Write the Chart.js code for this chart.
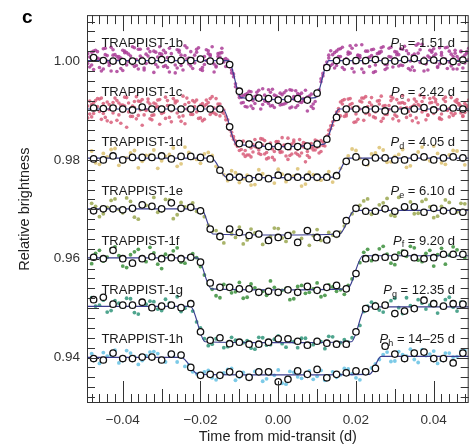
<!DOCTYPE html>
<html>
<head>
<meta charset="utf-8">
<script src="https://cdn.jsdelivr.net/npm/chart.js@4.4.1/dist/chart.umd.min.js"></script>
<style>
  html, body { margin: 0; padding: 0; background: #fff; }
  #wrap { width: 474px; height: 446px; }
</style>
</head>
<body>
<div id="wrap"><canvas id="lc" width="474" height="446"></canvas></div>
<script>
// planets from top to bottom, each light curve shifted down by 0.01
const planets = ['b', 'c', 'd', 'e', 'f', 'g', 'h'];
const periods = ['1.51', '2.42', '4.05', '6.10', '9.20', '12.35', '14\u201325'];
const offsets = [0, -0.01, -0.02, -0.03, -0.04, -0.05, -0.06];
const dotColors = [
    'rgba(172,62,152,0.85)', 'rgba(216,94,122,0.85)', 'rgba(222,196,120,0.9)',
    'rgba(160,172,90,0.9)', 'rgba(70,150,70,0.9)', 'rgba(60,155,130,0.9)', 'rgba(110,196,228,0.9)'
];

const xTicks = [-0.04, -0.02, 0, 0.02, 0.04];
const yTicks = [0.94, 0.96, 0.98, 1.00];

// binned points (open circles). time in days, flux in ppt relative to 1
const binT = [
    -0.0475, -0.045, -0.0425, -0.04, -0.0375, -0.035, -0.0325, -0.03, -0.0275, -0.025,
    -0.0225, -0.02, -0.0175, -0.015, -0.0125, -0.01, -0.0075, -0.005, -0.0025, 0,
    0.0025, 0.005, 0.0075, 0.01, 0.0125, 0.015, 0.0175, 0.02, 0.0225, 0.025,
    0.0275, 0.03, 0.0325, 0.035, 0.0375, 0.04, 0.0425, 0.045, 0.0475
];
const binB = [0.7, 0.1, 0.0, -0.1, 0.0, 0.0, 0.1, 0.3, 0.3, 0.1, 0.1, 0.4, 0.0, 0.0, -0.7, -6.1, -7.4, -7.5, -7.6, -7.9,
    -7.7, -7.6, -7.9, -6.5, -1.3, 0.1, -0.1, 0.1, 0.1, 0.3, 0.0, 0.0, 0.3, 0.5, 0.0, 0.2, 0.0, -0.1, 0.2];
const binC = [0.5, 0.4, 0.5, 0.3, 0.1, 0.7, 0.3, 0.3, 0.5, 0.3, 0.3, 0.4, 0.3, 0.3, -3.3, -6.7, -6.8, -7.0, -7.3, -7.3,
    -7.3, -7.3, -7.2, -6.8, -5.8, -1.4, 0.3, 0.3, 0.1, 0.3, -0.1, 0.3, -0.1, 0.3, 0.6, 0.1, 0.5, 0.5, 0.3];
const binD = [0.2, 0.0, 0.8, 0.0, 0.5, 0.5, 0.5, 0.8, 0.2, 0.7, 0.7, 0.5, 0.2, -2.1, -3.5, -3.5, -3.8, -3.5, -3.8, -3.1,
    -3.5, -3.5, -3.5, -3.5, -3.5, -3.2, -0.3, 0.6, -0.5, 0.4, 0.4, 0.0, 0.0, 0.5, 0.6, 0.0, 0.4, 0.6, 0.4];
const binE = [-0.3, 0.1, 0.1, -0.1, 0.2, 0.9, 0.6, 0.1, 1.3, 0.2, 0.4, -0.3, -4.0, -5.5, -4.0, -4.7, -5.3, -5.0, -6.3, -5.7,
    -5.3, -6.7, -4.3, -5.7, -6.2, -5.0, -2.3, 0.2, -0.4, -0.4, 0.1, -0.4, 0.5, 0.5, -0.6, 0.2, -0.3, -0.4, -0.6];
const binF = [0.3, 0.0, 1.7, 0.0, -0.9, 0.0, 0.4, 0.0, 0.2, 0.0, 0.3, -0.7, -4.9, -5.8, -5.8, -6.1, -6.1, -6.8, -6.6, -6.8,
    -6.3, -6.8, -5.6, -6.4, -5.8, -5.4, -6.1, -3.0, 0.0, 0.2, 0.3, 0.3, 1.1, 0.2, 0.0, 0.2, 0.9, 0.9, 0.9];
const binG = [1.7, 2.2, 0.8, 0.6, 0.6, 1.2, 0.1, 0.4, 0.6, 0.1, 0.9, -4.8, -6.5, -6.0, -7.2, -6.9, -7.3, -7.3, -6.9, -6.2,
    -6.2, -6.7, -7.5, -6.7, -7.1, -7.3, -7.3, -4.8, -0.1, 0.4, 0.6, -1.1, -0.6, -0.1, 1.6, 0.9, 0.4, 0.9, 0.8];
const binH = [-0.2, -0.5, 0.9, -0.2, -0.2, 0.1, 0.1, -0.5, 0.7, 0.5, -2.0, -3.6, -3.4, -3.6, -2.9, -3.4, -4.0, -2.9, -2.9, -4.9,
    -4.4, -2.7, -3.4, -2.4, -4.1, -3.4, -3.1, -2.7, -2.9, -2.2, 2.3, 0.7, -0.2, 0.9, 1.1, -0.2, -0.2, -1.1, 0.9];

// unbinned photometry (coloured dots)
const rawT = [
    -0.049, -0.048, -0.047, -0.046, -0.045, -0.044, -0.043, -0.042, -0.041, -0.040,
    -0.039, -0.038, -0.037, -0.036, -0.035, -0.034, -0.033, -0.032, -0.031, -0.030,
    -0.029, -0.028, -0.027, -0.026, -0.025, -0.024, -0.023, -0.022, -0.021, -0.020,
    -0.019, -0.018, -0.017, -0.016, -0.015, -0.014, -0.013, -0.012, -0.011, -0.010,
    -0.009, -0.008, -0.007, -0.006, -0.005, -0.004, -0.003, -0.002, -0.001, 0,
    0.001, 0.002, 0.003, 0.004, 0.005, 0.006, 0.007, 0.008, 0.009, 0.010,
    0.011, 0.012, 0.013, 0.014, 0.015, 0.016, 0.017, 0.018, 0.019, 0.020,
    0.021, 0.022, 0.023, 0.024, 0.025, 0.026, 0.027, 0.028, 0.029, 0.030,
    0.031, 0.032, 0.033, 0.034, 0.035, 0.036, 0.037, 0.038, 0.039, 0.040,
    0.041, 0.042, 0.043, 0.044, 0.045, 0.046, 0.047, 0.048, 0.049
];
const rawT2 = [
    -0.0485, -0.0475, -0.0465, -0.0455, -0.0445, -0.0435, -0.0425, -0.0415, -0.0405, -0.0395,
    -0.0385, -0.0375, -0.0365, -0.0355, -0.0345, -0.0335, -0.0325, -0.0315, -0.0305, -0.0295,
    -0.0285, -0.0275, -0.0265, -0.0255, -0.0245, -0.0235, -0.0225, -0.0215, -0.0205, -0.0195,
    -0.0185, -0.0175, -0.0165, -0.0155, -0.0145, -0.0135, -0.0125, -0.0115, -0.0105, -0.0095,
    -0.0085, -0.0075, -0.0065, -0.0055, -0.0045, -0.0035, -0.0025, -0.0015, -0.0005,
    0.0005, 0.0015, 0.0025, 0.0035, 0.0045, 0.0055, 0.0065, 0.0075, 0.0085, 0.0095,
    0.0105, 0.0115, 0.0125, 0.0135, 0.0145, 0.0155, 0.0165, 0.0175, 0.0185, 0.0195,
    0.0205, 0.0215, 0.0225, 0.0235, 0.0245, 0.0255, 0.0265, 0.0275, 0.0285, 0.0295,
    0.0305, 0.0315, 0.0325, 0.0335, 0.0345, 0.0355, 0.0365, 0.0375, 0.0385, 0.0395,
    0.0405, 0.0415, 0.0425, 0.0435, 0.0445, 0.0455, 0.0465, 0.0475, 0.0485
];
const rawB = [1.5, -0.8, 2.2, 0.4, -1.6, 1.1, 2.8, -0.3, 0.9, -1.9, 1.7, 0.2, -1.1, 2.4, 0.6, -0.5, 1.9, -2.3, 0.8, 1.4,
    -0.9, 2.6, 0.1, -1.4, 1.2, 3.1, -0.6, 0.5, 1.8, -1.7, 0.9, 2.1, -0.2, -1.2, 1.6, 0.3,
    -0.4, -1.8, -5.2, -6.9,
    -8.4, -6.6, -9.1, -7.2, -5.9, -8.8, -7.5, -6.3, -9.4, -7.9, -6.8, -8.5, -5.8, -7.7, -9.0, -6.5, -8.1, -7.1, -9.6,
    -7.0, -4.2, -1.5, 0.6,
    1.3, -0.9, 2.5, 0.2, 1.8, -1.5, 3.2, 0.7, -0.4, 2.0, 1.1, -2.1, 1.6, 2.9, -0.7, 0.8, 1.9, -1.0, 2.4, 0.4,
    -1.8, 1.4, 3.5, 0.1, -0.6, 2.2, 1.0, -1.3, 1.7, 2.7, -0.2, 0.9, -1.6, 2.0, 1.2, 0.3];
const rawB2 = [-1.2, 2.0, 0.6, -2.0, 1.3, -0.4, 2.3, 0.9, -1.5, 1.7, -0.1, 2.9, -0.9, 1.0, -1.8, 2.5, 0.3, -0.7, 1.5, 2.2,
    -1.3, 0.6, -2.4, 1.8, 0.0, 2.7, -1.0, 1.2, 0.4, -1.9, 2.3, 1.0, -0.6, 1.5, 2.6, -1.1,
    -0.5, -3.2, -6.2,
    -7.3, -9.2, -6.1, -8.0, -7.0, -9.7, -6.9, -8.6, -5.7, -7.8, -8.9, -6.4, -7.4, -9.3, -6.0, -8.3, -7.6, -10.1, -6.7, -8.2,
    -5.8, -3.0, -0.8,
    2.1, -1.4, 0.9, 2.8, -0.5, 1.6, -2.2, 1.1, 3.3, 0.2, -1.1, 2.4, 0.6, 1.9, -1.7, 2.6, 0.0, 1.3, -0.8, 3.0,
    1.5, -1.2, 0.7, 2.3, -2.0, 1.0, 1.8, -0.3, 2.7, 0.5, -1.5, 1.4, 2.2, -0.7, 0.8, 1.6];
const rawB3 = [-0.5, 1.8, 0.7, -1.3, 2.5, 0.0, -2.0, 1.3, 0.4, 2.2, -0.8, 1.0, 2.7, -1.6, 0.5, 1.4, -0.3, 2.0, -1.2, 0.9,
    1.7, -2.2, 0.3, 2.3, -0.9, 1.1, 0.6, -1.5, 2.4, 0.2, -0.7, 1.5, 2.9, -1.0, 0.8, -0.2,
    0.2, -2.4, -4.6, -7.4,
    -7.0, -9.3, -6.2, -8.6, -7.7, -5.6, -8.2, -9.1, -6.9, -7.4, -8.8, -6.0, -9.5, -7.2, -6.6, -8.4, -5.9, -7.9, -8.7,
    -6.4, -3.6, -0.9, 1.2,
    -0.6, 2.0, 0.9, -1.7, 1.4, 2.6, -0.2, 1.1, -2.3, 0.6, 2.3, -0.8, 1.8, 0.3, -1.4, 2.8, 0.5, 1.3, -0.9, 2.1,
    0.0, -1.9, 1.6, 3.4, -0.5, 0.7, 2.5, -1.1, 1.2, 0.4, 2.0, -1.6, 0.9, 1.9, -0.4, 2.6];
const rawB4 = [0.8, -1.7, 1.9, 0.2, 2.6, -0.9, 1.2, -2.1, 0.6, 2.0, 1.4, -0.6, 0.3, 2.4, -1.4, 1.0, -0.2, 1.8, 2.9, -1.1,
    0.7, 1.5, -0.8, 2.2, -1.8, 0.4, 1.9, -0.4, 2.7, -1.3, 0.1, 1.3, -2.2, 0.9, 1.7, 0.5,
    -1.2, -2.6, -5.6,
    -8.5, -6.8, -7.9, -9.6, -6.3, -7.6, -8.1, -5.8, -9.0, -7.1, -6.5, -8.7, -7.8, -5.9, -9.4, -6.8, -8.0, -7.3, -9.2, -6.6,
    -6.5, -2.5, -0.2,
    -0.9, 1.7, 2.4, -1.3, 0.5, 3.1, -0.4, 1.2, -1.6, 2.0, 0.8, -2.3, 1.5, 2.7, -0.7, 0.9, -1.2, 1.8, 2.5, 0.1,
    -1.5, 1.1, 3.2, -0.3, 0.6, -1.8, 2.1, 1.4, -0.6, 0.2, 2.8, -1.0, 1.6, 0.4, -1.4, 1.9];
const rawC = [0.9, -1.3, 2.0, -0.2, 1.4, -2.1, 0.7, 2.5, -0.9, 1.1, -3.4, 0.4, 1.8, -1.0, 2.2, 0.0, -1.7, 1.5, 0.8, -0.6,
    2.7, -1.4, 0.5, 1.9, -2.2, 1.2, 0.3, -0.8, 2.1, -1.5, 0.9, 1.6, -0.4, 2.4, -1.1,
    -0.6, -2.8, -4.4, -6.8,
    -8.1, -6.2, -9.0, -7.6, -5.9, -8.7, -7.0, -9.8, -6.6, -8.3, -7.4, -5.5, -9.2, -7.8, -6.4, -8.9, -7.1, -10.4, -6.9, -8.0,
    -7.5, -6.1,
    -6.0, -4.8, -2.3, -0.9,
    1.7, -1.2, 2.3, 0.5, -0.7, 1.9, -2.0, 0.8, 2.6, -0.3, 1.3, -1.6, 0.2, 2.0, -0.9, 1.5, 3.0, -1.4, 0.6, 1.1,
    -2.5, 1.8, 0.0, 2.4, -0.6, 1.2, -1.8, 2.7, 0.4, -1.0, 1.6, 0.9, -0.4, 2.1];
const rawC2 = [-0.7, 1.6, 2.4, -1.8, 0.3, 1.2, -0.5, 2.0, -2.6, 0.9, 1.5, -1.2, 2.8, 0.1, -0.9, 1.7, -1.9, 0.6, 2.2, -0.4,
    1.0, -2.3, 1.9, 0.4, -1.1, 2.5, -0.2, 0.8, -1.6, 1.4, 2.1, -0.8, 0.5, 1.3,
    -0.3, -1.9, -3.4, -5.8, -6.6,
    -7.9, -9.3, -6.5, -8.4, -7.2, -5.7, -8.8, -7.7, -9.5, -6.3, -8.2, -7.0, -9.9, -6.8, -8.6, -5.9, -7.4, -9.1, -6.7, -8.0,
    -7.3,
    -7.1, -5.2, -3.7, -1.4, -0.1,
    2.0, -1.1, 1.2, -2.4, 0.7, 2.5, -0.6, 1.6, -1.3, 0.3, 2.9, -0.8, 1.0, -1.7, 2.2, 0.5, 1.4, -0.2, -2.1, 1.8,
    0.9, 2.6, -1.0, 0.4, 1.7, -1.5, 2.3, 0.1, -0.5, 1.9, 1.1, -1.2, 0.6];
const rawC3 = [-1.5, 1.2, 0.3, 2.3, -0.6, 1.7, -2.4, 0.8, 1.5, -0.2, 2.6, -1.2, 0.6, 1.9, -3.0, 0.2, 1.3, -0.9, 2.1, 0.7,
    -1.6, 1.0, 2.4, -0.5, 0.4, -2.7, 1.6, 2.0, -0.3, 1.1, -1.8, 0.5, 2.8, -0.8, 1.3,
    0.1, -1.9, -5.1, -6.2,
    -7.0, -8.8, -6.5, -9.4, -7.3, -8.0, -5.8, -8.5, -7.7, -10.0, -6.3, -8.4, -7.1, -9.1, -6.0, -7.9, -8.6, -6.7, -9.5, -7.4,
    -6.2, -8.3,
    -7.2, -4.0, -3.0, -0.3,
    -1.1, 2.2, 0.7, 1.4, -2.3, 0.3, 2.5, -0.4, 1.1, -1.5, 2.0, 0.9, -0.8, 2.8, 0.1, -2.1, 1.6, 0.6, -1.0, 2.3,
    1.2, -0.3, -1.9, 1.5, 2.6, 0.2, -0.7, 1.8, -1.3, 0.8, 2.2, -0.5, 1.4, 0.0];
const rawC4 = [1.9, -0.6, 0.8, 2.5, -1.4, 0.2, 1.6, -2.0, 1.1, 2.7, -0.3, 0.9, -1.7, 1.8, 0.4, 2.3, -1.0, 1.3, -2.8, 0.6,
    2.0, -0.1, 1.5, -1.3, 2.9, 0.3, -0.8, 1.7, 0.0, -2.1, 1.2, 2.4, -0.5, 0.7,
    0.5, -1.2, -3.9, -5.3, -7.3,
    -6.6, -8.1, -9.0, -6.9, -7.5, -8.9, -6.1, -9.6, -7.8, -6.4, -8.5, -7.2, -5.6, -8.8, -7.0, -9.2, -6.5, -8.3, -7.6, -6.0,
    -8.6,
    -6.4, -6.0, -3.1, -2.0, 0.4,
    1.3, -0.7, 2.4, 0.4, -1.8, 1.7, 2.8, -0.9, 0.6, 1.9, -2.2, 1.0, 0.2, 2.5, -1.2, 1.5, -0.4, 2.1, 0.8, -1.5,
    3.1, 0.3, -0.9, 1.6, 2.2, -1.7, 0.9, 0.0, 2.6, -0.6, 1.4, -1.1, 1.0];

const sparseT = [
    -0.048, -0.046, -0.044, -0.042, -0.040, -0.038, -0.036, -0.034, -0.032, -0.030,
    -0.028, -0.026, -0.024, -0.022, -0.020, -0.018, -0.016, -0.014, -0.012, -0.010,
    -0.008, -0.006, -0.004, -0.002, 0, 0.002, 0.004, 0.006, 0.008, 0.010,
    0.012, 0.014, 0.016, 0.018, 0.020, 0.022, 0.024, 0.026, 0.028, 0.030,
    0.032, 0.034, 0.036, 0.038, 0.040, 0.042, 0.044, 0.046, 0.048
];
const sparseT2 = [
    -0.047, -0.045, -0.043, -0.041, -0.039, -0.037, -0.035, -0.033, -0.031, -0.029,
    -0.027, -0.025, -0.023, -0.021, -0.019, -0.017, -0.015, -0.013, -0.011, -0.009,
    -0.007, -0.005, -0.003, -0.001, 0.001, 0.003, 0.005, 0.007, 0.009, 0.011,
    0.013, 0.015, 0.017, 0.019, 0.021, 0.023, 0.025, 0.027, 0.029, 0.031,
    0.033, 0.035, 0.037, 0.039, 0.041, 0.043, 0.045, 0.047
];
const rawD = [1.8, -0.9, 0.6, 2.3, -0.4, 1.4, -1.6, 0.9, 2.0, -0.2, 1.1, -1.3, 2.6, 0.3, -0.7, 1.5,
    -1.3, -3.0,
    -2.2, -4.6, -3.1, -5.0, -2.8, -3.9, -1.9, -4.4, -3.3, -5.3, -2.5, -4.0, -3.6,
    -4.5, -1.7, 0.8,
    1.9, -0.8, 1.2, 2.5, -0.5, 0.7, 2.1, -1.2, 1.6, 0.2, 2.8, -0.6, 1.0, 1.8, -1.0];
const rawD2 = [-0.6, 1.3, 2.1, -1.1, 0.4, 1.9, -0.3, 1.0, -1.7, 0.7, 2.4, -0.8, 1.5, 0.1, 1.2,
    0.9, -2.0,
    -4.2, -2.6, -3.8, -5.1, -2.0, -3.4, -4.7, -2.9, -3.7, -1.8, -4.9, -3.0, -4.1, -2.4,
    -3.0, -0.5,
    2.2, 0.3, -1.0, 1.4, 2.0, -0.4, 1.1, -1.5, 0.8, 2.6, -0.2, 1.3, -0.9, 1.9, 0.5];
const rawE = [1.2, -1.5, 0.4, 2.1, -0.7, 1.6, -2.0, 0.8, 2.4, -0.3, 1.9, -1.1, 0.5, 1.3,
    -0.6, -3.2,
    -4.3, -6.8, -5.0, -3.6, -6.2, -4.8, -7.1, -5.5, -3.9, -6.5, -4.6, -5.9, -7.3, -4.1, -6.0, -5.2,
    -4.6, -2.4, 0.5,
    1.7, -1.0, 0.9, 2.2, -1.4, 0.3, 1.5, -0.8, 2.0, -1.7, 0.6, 1.4, -0.5, 1.1];
const rawE2 = [0.6, -0.9, 1.8, 0.0, 2.3, -1.6, 1.1, 0.3, -0.6, 2.0, -1.9, 1.4, 0.7, -0.4,
    -1.5, -4.4,
    -6.0, -4.4, -5.7, -7.0, -4.0, -5.4, -6.6, -3.8, -5.8, -4.9, -6.9, -4.2, -5.3, -6.3, -4.7,
    -5.5, -3.4, -0.9,
    0.8, 2.1, -0.6, 1.3, -1.2, 2.4, 0.2, -0.9, 1.6, 0.5, -1.4, 1.9, 0.0, 1.2];
const rawF = [-1.0, 1.7, 0.3, 2.4, -1.5, 0.8, 1.9, -0.6, 1.2, -2.0, 0.5, 2.2, -0.9, 1.0,
    -1.6, -5.0,
    -7.5, -5.2, -6.9, -4.8, -7.8, -5.9, -6.6, -4.5, -7.2, -6.0, -8.1, -5.4, -6.8, -4.9, -7.4, -5.7, -6.3,
    -5.4, -2.7, 1.3,
    -0.4, 2.0, 0.9, -1.2, 1.6, 2.5, -0.3, 1.1, -1.5, 2.1, 0.7, 1.8, 0.2];
const rawF2 = [1.1, -0.5, 2.0, 0.6, -1.8, 1.4, 0.0, 2.3, -1.1, 0.9, 1.6, -0.7, 0.4,
    0.2, -3.3,
    -6.2, -7.9, -5.5, -6.7, -8.0, -5.1, -6.9, -7.4, -5.8, -6.4, -8.3, -5.6, -7.0, -6.1, -7.7, -5.3, -6.6, -7.2,
    -4.1, -0.8,
    1.9, 0.2, 2.5, -0.9, 1.2, 0.5, 2.2, -0.6, 1.7, 0.8, -1.1, 2.4, 1.0];
const rawG = [2.1, 0.6, -0.8, 1.5, 0.2, 1.9, -1.2, 0.8, 1.3, -0.5, 1.0, 2.3, 0.0,
    -0.6, -4.0,
    -7.6, -6.2, -8.0, -5.9, -7.1, -6.6, -8.3, -6.0, -7.4, -5.6, -7.9, -6.8, -6.1, -7.7, -6.4, -8.2, -5.8, -7.0, -6.9,
    -4.8, -0.7,
    1.2, -0.4, 0.9, 2.0, -1.1, 0.5, 1.7, -0.2, 1.3, 0.3, 2.2, -0.6, 1.0];
const rawG2 = [0.4, 1.6, -0.5, 1.0, 2.0, -0.9, 0.7, 1.4, -0.2, 1.8, 0.3, -0.7,
    0.5, -2.8, -6.2,
    -7.3, -6.0, -7.8, -6.5, -7.0, -8.1, -5.9, -7.5, -6.3, -7.2, -6.7, -8.0, -6.1, -7.4, -6.8, -5.7, -7.6, -6.4,
    -6.0, -3.5, 0.4,
    0.9, -0.8, 1.5, 0.1, 2.1, -0.3, 1.0, 0.6, -1.0, 1.7, 0.2, 1.2];
const rawH = [0.8, -1.2, 0.3, 1.5, -0.6, 0.9, -1.4, 0.4, 1.2, -0.3, 0.7, -0.9,
    -1.8, -2.9,
    -3.9, -2.6, -4.5, -3.1, -2.2, -4.0, -3.6, -2.8, -4.8, -3.3, -2.5, -5.4, -3.0, -4.2, -2.7, -3.8, -4.6, -2.9, -3.5, -2.3, -4.1, -3.2,
    -2.1, -0.4,
    1.1, -0.7, 0.6, 1.7, -1.0, 0.4, 1.3, -0.5, 0.9, 0.2, 1.5];
const rawH2 = [-0.3, 1.0, 0.5, -1.1, 1.4, 0.2, -0.6, 1.1, 0.8, -0.9, 0.4,
    0.1, -1.5, -3.3,
    -2.9, -4.1, -3.4, -2.4, -4.6, -3.0, -3.8, -2.5, -4.3, -3.6, -5.2, -2.8, -3.9, -3.2, -4.4, -2.6, -3.7, -4.0, -2.2, -3.3, -4.5, -3.1,
    -1.3, 0.6,
    -0.8, 1.2, 0.3, -0.4, 1.6, 0.7, -1.2, 0.9, 0.1, 1.3];

// transit model (blue line), vertices in days / ppt
const modelTB = [-0.0492, -0.0128, -0.0096, 0, 0.0096, 0.0130, 0.049];
const modelFB = [0.1, 0.1, -7.4, -7.8, -7.4, 0.1, 0.1];
const modelTC = [-0.0492, -0.0142, -0.0108, 0, 0.0118, 0.0157, 0.049];
const modelFC = [0.3, 0.3, -6.8, -7.3, -6.8, 0.3, 0.3];
const modelTD = [-0.0492, -0.0172, -0.0133, 0, 0.0145, 0.0180, 0.049];
const modelFD = [0.35, 0.35, -3.5, -3.6, -3.5, 0.35, 0.35];
const modelTE = [-0.0492, -0.0198, -0.0168, 0, 0.0157, 0.0197, 0.049];
const modelFE = [0.1, 0.1, -5.0, -5.2, -5.0, -0.2, -0.2];
const modelTF = [-0.0492, -0.0208, -0.0172, 0, 0.0178, 0.0218, 0.049];
const modelFF = [0.15, 0.15, -6.1, -6.3, -6.1, 0.6, 0.6];
const modelTG = [-0.0492, -0.0226, -0.0188, 0, 0.0188, 0.0226, 0.049];
const modelFG = [0.35, 0.35, -6.8, -7.0, -6.8, 0.25, 0.25];
const modelTH = [-0.0492, -0.0250, -0.0205, 0, 0.0235, 0.0265, 0.049];
const modelFH = [0.05, 0.05, -3.4, -3.5, -3.4, 0.25, 0.25];

const FONT = "'Liberation Sans', Arial, Helvetica, sans-serif";

function toPoints(ts, vs, i) {
    return ts.map((t, k) => ({ x: t, y: 1 + vs[k] / 1000 + offsets[i] }));
}

const rawSets = [
    toPoints(rawT, rawB, 0).concat(toPoints(rawT2, rawB2, 0), toPoints(rawT, rawB3, 0), toPoints(rawT2, rawB4, 0)),
    toPoints(rawT, rawC, 1).concat(toPoints(rawT2, rawC2, 1), toPoints(rawT, rawC3, 1), toPoints(rawT2, rawC4, 1)),
    toPoints(sparseT, rawD, 2).concat(toPoints(sparseT2, rawD2, 2)),
    toPoints(sparseT, rawE, 3).concat(toPoints(sparseT2, rawE2, 3)),
    toPoints(sparseT, rawF, 4).concat(toPoints(sparseT2, rawF2, 4)),
    toPoints(sparseT, rawG, 5).concat(toPoints(sparseT2, rawG2, 5)),
    toPoints(sparseT, rawH, 6).concat(toPoints(sparseT2, rawH2, 6))
];
const binSets = [binB, binC, binD, binE, binF, binG, binH].map((v, i) => toPoints(binT, v, i));
const modelSets = [
    [modelTB, modelFB], [modelTC, modelFC], [modelTD, modelFD], [modelTE, modelFE],
    [modelTF, modelFF], [modelTG, modelFG], [modelTH, modelFH]
].map((m, i) => toPoints(m[0], m[1], i));

const datasets = [];
planets.forEach(function (p, i) {
    datasets.push({
        data: rawSets[i],
        pointRadius: i < 2 ? 1.8 : 1.9,
        pointBackgroundColor: dotColors[i],
        pointBorderWidth: 0,
        order: 3
    });
    datasets.push({
        type: 'line',
        data: modelSets[i],
        borderColor: '#3b3e90',
        borderWidth: 1.2,
        pointRadius: 0,
        cubicInterpolationMode: 'monotone',
        fill: false,
        order: 2
    });
    datasets.push({
        data: binSets[i],
        pointRadius: 3.2,
        pointBackgroundColor: '#fff',
        pointBorderColor: '#111',
        pointBorderWidth: 1.3,
        order: 1
    });
});

function fmtTick(v) {
    if (Math.abs(v) < 1e-9) return '0.00';
    return (v < 0 ? '\u2212' : '') + Math.abs(v).toFixed(2);
}

// inward ticks on all four sides plus the frame
const frameTicks = {
    id: 'frameTicks',
    afterDatasetsDraw(chart) {
        const { ctx, chartArea: a, scales: { x, y } } = chart;
        ctx.save();
        ctx.strokeStyle = '#333';
        ctx.lineWidth = 1;
        ctx.beginPath();
        for (let k = Math.ceil(x.min / 0.002); k <= Math.floor(x.max / 0.002); k++) {
            const px = Math.round(x.getPixelForValue(k * 0.002)) + 0.5;
            const lenB = k % 10 === 0 ? 22 : (k % 5 === 0 ? 14 : 9);
            const lenT = k % 10 === 0 ? 16 : (k % 5 === 0 ? 12 : 9);
            ctx.moveTo(px, a.bottom);
            ctx.lineTo(px, a.bottom - lenB);
            ctx.moveTo(px, a.top);
            ctx.lineTo(px, a.top + lenT);
        }
        for (let k = Math.ceil(y.min / 0.002); k <= Math.floor(y.max / 0.002); k++) {
            const py = Math.round(y.getPixelForValue(k * 0.002)) + 0.5;
            const len = k % 5 === 0 ? 12 : 8;
            ctx.moveTo(a.left, py);
            ctx.lineTo(a.left + len, py);
            ctx.moveTo(a.right, py);
            ctx.lineTo(a.right - len, py);
        }
        ctx.stroke();
        ctx.strokeRect(a.left + 0.5, a.top + 0.5, a.right - a.left - 1, a.bottom - a.top - 1);
        ctx.restore();
    }
};

const labelLift = 0.0036;
const labelLeftT = -0.0455;
const labelRightT = 0.0455;

const curveLabels = {
    id: 'curveLabels',
    afterDatasetsDraw(chart) {
        const { ctx, scales: { x, y } } = chart;
        const fReg = '13px ' + FONT;
        const fIt = 'italic 13px ' + FONT;
        const fSub = '9px ' + FONT;
        ctx.save();
        ctx.fillStyle = '#1a1a1a';
        ctx.textBaseline = 'middle';
        ctx.textAlign = 'left';
        planets.forEach(function (p, i) {
            const py = y.getPixelForValue(1 + labelLift + offsets[i]);
            ctx.font = fReg;
            ctx.fillText('TRAPPIST-1' + p, x.getPixelForValue(labelLeftT), py);

            const tail = ' = ' + periods[i] + ' d';
            const wTail = ctx.measureText(tail).width;
            ctx.font = fSub;
            const wSub = ctx.measureText(p).width;
            ctx.font = fIt;
            const wP = ctx.measureText('P').width;
            const x0 = x.getPixelForValue(labelRightT) - wTail - wSub - wP;
            ctx.fillText('P', x0, py);
            ctx.font = fSub;
            ctx.fillText(p, x0 + wP, py + 4);
            ctx.font = fReg;
            ctx.fillText(tail, x0 + wP + wSub, py);
        });
        ctx.fillStyle = '#000';
        ctx.font = 'bold 19px ' + FONT;
        ctx.textBaseline = 'alphabetic';
        ctx.fillText('c', 22, 23);
        ctx.restore();
    }
};

Chart.defaults.font.family = FONT;

new Chart(document.getElementById('lc'), {
    type: 'scatter',
    data: { datasets: datasets },
    options: {
        responsive: false,
        animation: false,
        events: [],
        layout: { padding: { top: 14, right: 2, left: 0, bottom: 0 } },
        plugins: {
            legend: { display: false },
            tooltip: { enabled: false }
        },
        scales: {
            x: {
                type: 'linear',
                min: -0.0492,
                max: 0.049,
                grid: { display: false, drawTicks: false },
                border: { display: false },
                afterBuildTicks: s => { s.ticks = xTicks.map(v => ({ value: v })); },
                afterFit: s => { s.height = 43; },
                ticks: {
                    padding: 9,
                    color: '#333',
                    font: { size: 13.5 },
                    maxRotation: 0,
                    autoSkip: false,
                    callback: v => fmtTick(v)
                },
                title: {
                    display: true,
                    text: 'Time from mid-transit (d)',
                    color: '#222',
                    font: { size: 14.5 },
                    padding: { top: 0, bottom: 0.5 }
                }
            },
            y: {
                type: 'linear',
                min: 0.9308,
                max: 1.0093,
                grid: { display: false, drawTicks: false },
                border: { display: false },
                afterBuildTicks: s => { s.ticks = yTicks.map(v => ({ value: v })); },
                afterFit: s => { s.width = 87; },
                ticks: {
                    padding: 7,
                    color: '#333',
                    font: { size: 13.5 },
                    autoSkip: false,
                    callback: v => fmtTick(v)
                },
                title: {
                    display: true,
                    text: 'Relative brightness',
                    color: '#222',
                    font: { size: 14.5 },
                    padding: { top: 16, bottom: 0 }
                }
            }
        }
    },
    plugins: [frameTicks, curveLabels]
});
</script>
</body>
</html>
